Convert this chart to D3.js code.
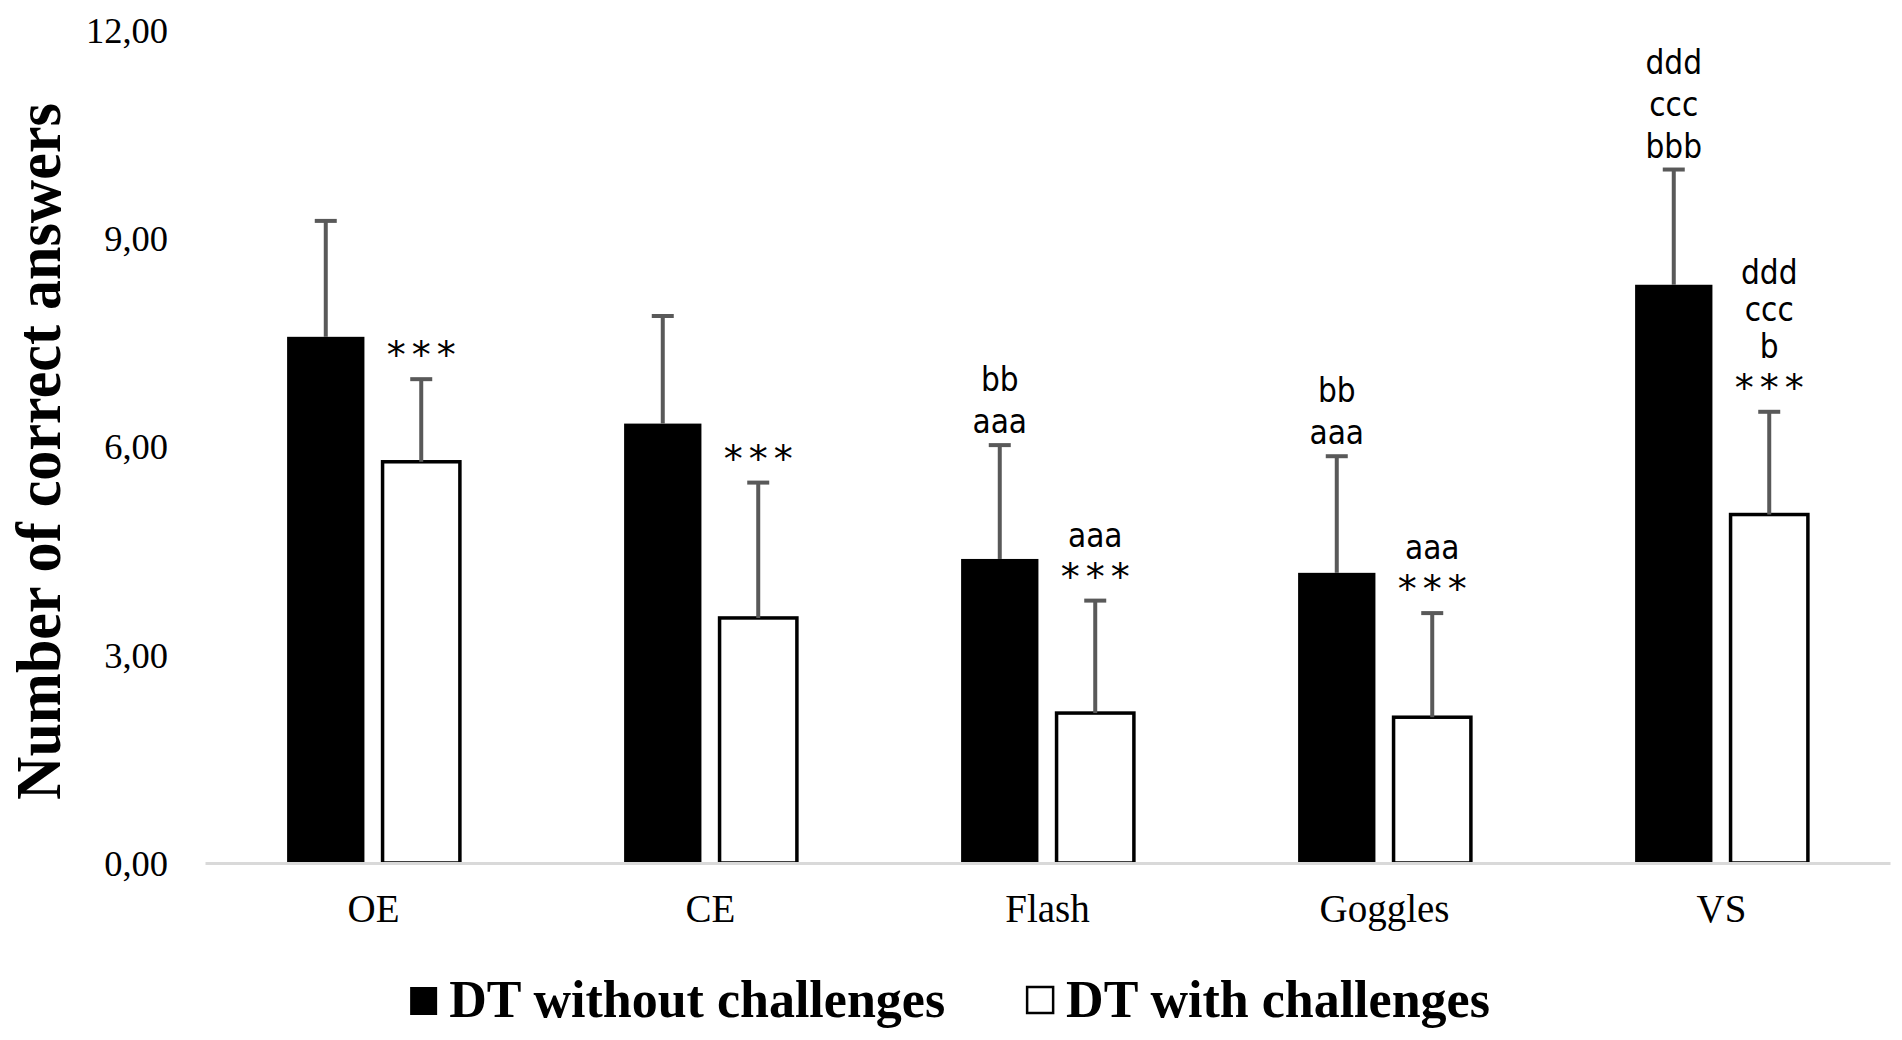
<!DOCTYPE html>
<html>
<head>
<meta charset="utf-8">
<script src="https://cdn.jsdelivr.net/npm/d3@7"></script>
<style>
  body { margin: 0; background: #fff; }
  svg { display: block; }
  .serif { font-family: "Liberation Serif", "Times New Roman", serif; fill: #000; }
  .note { font-family: "Liberation Sans Narrow", "DejaVu Sans Condensed", sans-serif; font-size: 33px; fill: #000; }
  .note.star { font-family: "DejaVu Sans", sans-serif; font-size: 38px; letter-spacing: 6px; }
</style>
</head>
<body>
<div id="chart"></div>
<script>
const categories = ["OE", "CE", "Flash", "Goggles", "VS"];
const seriesKeys = ["without", "with"];
const seriesLabels = ["DT without challenges", "DT with challenges"];
const meanWithout = [7.58, 6.33, 4.38, 4.18, 8.33];
const meanWith = [5.78, 3.53, 2.16, 2.1, 5.02];
const sdWithout = [1.67, 1.55, 1.64, 1.68, 1.66];
const sdWith = [1.19, 1.95, 1.62, 1.5, 1.48];
// significance marks, listed from the bar upwards
const notesWithout = [[], [], ["aaa", "bb"], ["aaa", "bb"], ["bbb", "ccc", "ddd"]];
const notesWith = [["***"], ["***"], ["***", "aaa"], ["***", "aaa"], ["***", "b", "ccc", "ddd"]];
const yTicks = [0, 3, 6, 9, 12];

const width = 1902, height = 1040;
const margin = { top: 30, right: 12, bottom: 177, left: 205 };

const rows = categories.map((c, i) => ({
  category: c,
  values: [
    { key: "without", mean: meanWithout[i], sd: sdWithout[i], notes: notesWithout[i] },
    { key: "with", mean: meanWith[i], sd: sdWith[i], notes: notesWith[i] },
  ],
}));

const x0 = d3.scaleBand()
  .domain(categories)
  .range([margin.left, width - margin.right]);
const x1 = d3.scaleBand()
  .domain(seriesKeys)
  .range([0, x0.bandwidth()])
  .paddingInner(0.19)
  .paddingOuter(0.86);
const y = d3.scaleLinear()
  .domain([0, 12])
  .range([height - margin.bottom, margin.top]);

const fill = d3.scaleOrdinal().domain(seriesKeys).range(["#000", "#fff"]);
const lineGap = { without: 42, with: 37 };
const comma = d3.formatLocale({ decimal: ",", thousands: ".", grouping: [3], currency: ["", ""] }).format(".2f");

const svg = d3.select("#chart").append("svg")
  .attr("width", width)
  .attr("height", height)
  .attr("viewBox", [0, 0, width, height]);

// y axis (labels only)
svg.append("g")
  .attr("transform", `translate(${margin.left},0)`)
  .call(d3.axisLeft(y).tickValues(yTicks).tickFormat(comma).tickSize(0).tickPadding(37))
  .call((g) => g.select(".domain").remove())
  .call((g) => g.selectAll("text")
    .attr("class", "serif")
    .attr("font-size", 36.5)
    .attr("dy", "0.34em"));

svg.append("text")
  .attr("class", "serif")
  .attr("font-weight", "bold")
  .attr("font-size", 64)
  .attr("text-anchor", "middle")
  .attr("textLength", 697)
  .attr("lengthAdjust", "spacingAndGlyphs")
  .attr("transform", `translate(60,${(y(0) + y(12)) / 2 + 5}) rotate(-90)`)
  .text("Number of correct answers");

// bars
const group = svg.append("g")
  .selectAll("g")
  .data(rows)
  .join("g")
  .attr("transform", (d) => `translate(${x0(d.category)},0)`);

group.selectAll("rect")
  .data((d) => d.values)
  .join("rect")
  .attr("x", (d) => x1(d.key))
  .attr("width", x1.bandwidth())
  .attr("y", (d) => y(d.mean))
  .attr("height", (d) => y(0) - y(d.mean))
  .attr("fill", (d) => fill(d.key))
  .attr("stroke", "#000")
  .attr("stroke-width", (d) => (d.key === "with" ? 3.5 : 0));

// error bars
const err = group.selectAll(".err")
  .data((d) => d.values)
  .join("g")
  .attr("class", "err")
  .attr("stroke", "#595959")
  .attr("stroke-width", 4)
  .attr("transform", (d) => `translate(${x1(d.key) + x1.bandwidth() / 2},0)`);
err.append("line")
  .attr("y1", (d) => y(d.mean))
  .attr("y2", (d) => y(d.mean + d.sd));
err.append("line")
  .attr("x1", -11)
  .attr("x2", 11)
  .attr("y1", (d) => y(d.mean + d.sd))
  .attr("y2", (d) => y(d.mean + d.sd));

// significance marks
group.selectAll(".notes")
  .data((d) => d.values)
  .join("g")
  .attr("class", "notes")
  .attr("transform", (d) => `translate(${x1(d.key) + x1.bandwidth() / 2},0)`)
  .each(function (d) {
    const capY = y(d.mean + d.sd);
    let base = null;
    let prevStar = false;
    d.notes.forEach((t, i) => {
      const star = t === "***";
      if (i === 0) base = capY - (star ? 11 : 12);
      else base -= prevStar ? 43 : lineGap[d.key];
      d3.select(this).append("text")
        .attr("class", star ? "note star" : "note")
        .attr("text-anchor", "middle")
        .attr("dx", star ? 3 : 0)
        .attr("y", base)
        .text(t);
      prevStar = star;
    });
  });

// x axis
svg.append("g")
  .attr("transform", `translate(0,${y(0)})`)
  .call(d3.axisBottom(x0).tickSize(0).tickSizeOuter(0))
  .call((g) => g.select(".domain").attr("stroke", "#d9d9d9").attr("stroke-width", 3))
  .call((g) => g.selectAll("text")
    .attr("class", "serif")
    .attr("font-size", 39)
    .attr("y", 59)
    .attr("dy", 0));

// legend
const legend = svg.append("g").attr("transform", `translate(0,1017)`);
const items = legend.selectAll("g")
  .data(seriesKeys)
  .join("g");
items.append("rect")
  .attr("y", -30)
  .attr("width", (d) => (d === "with" ? 26 : 27))
  .attr("height", (d) => (d === "with" ? 26 : 28))
  .attr("fill", (d) => fill(d))
  .attr("stroke", "#000")
  .attr("stroke-width", (d) => (d === "with" ? 2.5 : 0));
items.append("text")
  .attr("class", "serif")
  .attr("font-weight", "bold")
  .attr("font-size", 52)
  .attr("x", 39)
  .text((d, i) => seriesLabels[i]);

let cursor = 0;
const offsets = [];
items.each(function () {
  offsets.push(cursor);
  cursor += 39 + this.querySelector("text").getComputedTextLength() + 82;
});
const total = cursor - 82;
const start = 950 - total / 2;
items.attr("transform", (d, i) => `translate(${start + offsets[i]},0)`);
</script>
</body>
</html>
